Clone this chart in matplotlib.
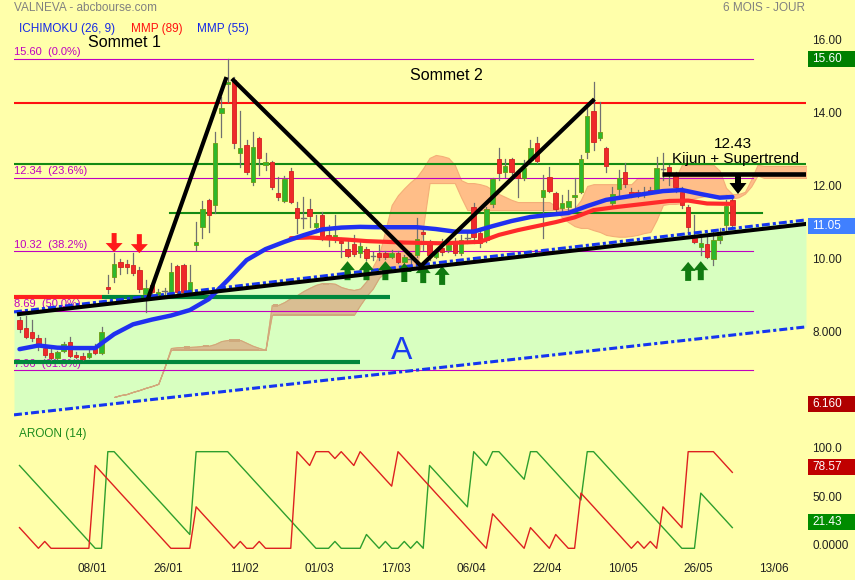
import numpy as np
import matplotlib.pyplot as plt
from matplotlib.patches import Polygon, Rectangle

plt.rcParams['font.family'] = ['Liberation Sans', 'DejaVu Sans']

# ---- daily candles (index 0 .. 113) ----
opens = [8.44, 8.22, 8.11, 7.95, 7.67, 7.53, 7.40, 7.59, 7.84, 7.48, 7.45, 7.42, 7.73, 7.53,
         9.34, 9.62, 10.03, 9.92, 9.95, 9.81, 9.15, 9.40, 9.15, 9.23, 9.21, 9.92, 9.95, 9.21,
         10.49, 10.99, 11.73, 11.59, 14.11, 14.90, 15.01, 13.01, 13.23, 12.22, 13.42, 12.69,
         12.77, 11.92, 11.70, 12.52, 11.51, 11.23, 11.48, 10.99, 11.32, 10.74, 10.70, 10.60,
         10.38, 10.52, 10.27, 10.38, 10.19, 10.27, 10.27, 10.16, 10.27, 10.03, 10.11, 10.22,
         10.85, 10.60, 10.16, 10.41, 10.36, 10.60, 10.27, 10.69, 11.53, 10.82, 10.63, 11.62,
         12.85, 12.49, 12.85, 12.47, 12.33, 12.82, 13.29, 11.81, 12.36, 11.92, 11.51, 11.53,
         11.81, 11.95, 13.04, 14.16, 13.42, 13.15, 11.64, 12.03, 12.49, 11.92, 11.92, 11.89,
         12.00, 12.00, 12.58, 12.63, 12.41, 11.95, 11.53, 10.69, 10.44, 10.52, 10.11, 10.63,
         11.04, 11.73]
highs = [8.52, 8.55, 8.44, 8.03, 7.95, 7.67, 7.59, 7.84, 7.97, 7.56, 7.53, 7.62, 7.78, 8.25,
         9.67, 10.27, 10.11, 10.08, 10.27, 9.89, 9.53, 9.45, 9.29, 9.32, 10.00, 9.95, 9.97, 9.95,
         11.12, 11.70, 11.75, 13.59, 14.55, 15.60, 15.10, 14.16, 13.37, 13.59, 13.45, 13.01,
         12.79, 12.36, 12.38, 12.60, 11.67, 11.81, 11.75, 11.32, 11.40, 11.04, 11.32, 10.69,
         10.63, 10.77, 10.63, 10.44, 10.30, 10.49, 10.33, 10.36, 10.33, 10.22, 10.27, 11.23,
         10.96, 10.63, 10.30, 10.66, 10.63, 10.69, 10.77, 10.85, 11.64, 10.90, 11.53, 12.33,
         13.15, 12.85, 12.88, 12.55, 12.82, 13.37, 13.45, 12.41, 12.63, 11.95, 11.86, 12.00,
         12.33, 12.96, 14.25, 14.96, 14.41, 13.18, 12.08, 12.55, 12.74, 12.05, 12.00, 12.08,
         12.08, 12.90, 13.01, 12.69, 12.49, 12.08, 11.59, 11.32, 10.77, 10.77, 10.90, 10.96,
         11.73, 11.81]
lows = [8.11, 7.95, 7.86, 7.62, 7.42, 7.34, 7.37, 7.56, 7.42, 7.40, 7.34, 7.40, 7.51, 7.51,
        9.18, 9.48, 9.70, 9.73, 9.67, 9.21, 8.66, 9.12, 9.07, 9.15, 9.18, 9.18, 9.18, 9.12,
        10.36, 10.69, 10.85, 11.37, 13.45, 14.41, 13.15, 12.63, 12.44, 12.14, 12.41, 12.55,
        12.03, 11.73, 11.67, 11.64, 10.82, 10.96, 10.99, 10.85, 10.63, 10.47, 10.58, 10.16,
        10.16, 10.19, 10.16, 10.08, 10.08, 10.08, 10.11, 10.14, 10.00, 9.95, 9.95, 10.16,
        10.36, 10.08, 10.14, 10.22, 10.30, 10.22, 10.22, 10.55, 10.55, 10.44, 10.58, 11.53,
        12.27, 12.36, 12.41, 11.81, 12.27, 12.77, 12.74, 10.69, 11.95, 11.42, 11.40, 11.45,
        11.53, 11.92, 12.88, 13.10, 13.37, 12.49, 11.53, 11.86, 12.08, 11.81, 11.81, 11.81,
        11.92, 11.95, 12.27, 12.14, 11.95, 11.51, 10.85, 10.55, 10.22, 10.14, 9.95, 10.55,
        10.85, 10.99]
closes = [8.19, 7.97, 7.95, 7.73, 7.48, 7.40, 7.56, 7.78, 7.45, 7.42, 7.37, 7.53, 7.53, 8.11,
          9.29, 9.97, 9.89, 9.90, 9.73, 9.29, 9.32, 9.21, 9.21, 9.24, 9.75, 9.21, 9.21, 9.48,
          10.58, 11.48, 11.32, 13.29, 14.25, 14.93, 13.29, 13.15, 12.49, 13.18, 12.88, 12.77,
          12.08, 11.81, 12.30, 11.67, 11.23, 11.22, 11.29, 11.10, 10.74, 10.70, 10.72, 10.55,
          10.19, 10.25, 10.47, 10.14, 10.20, 10.16, 10.16, 10.27, 10.03, 10.16, 10.12, 10.66,
          10.80, 10.22, 10.30, 10.30, 10.49, 10.27, 10.63, 10.70, 10.71, 10.55, 11.48, 12.30,
          12.47, 12.66, 12.49, 12.33, 12.60, 13.15, 12.79, 12.00, 11.97, 11.48, 11.64, 11.70,
          11.86, 12.85, 14.03, 13.32, 13.59, 12.66, 11.89, 12.33, 12.16, 11.89, 11.89, 11.95,
          11.95, 12.60, 12.59, 12.49, 12.08, 11.59, 10.99, 10.58, 10.55, 10.16, 10.63, 10.74,
          11.56, 11.05]

# moving averages (sampled along the curve)
mma55_idx = [0, 3, 6, 9, 12, 15, 18, 21, 24, 27, 30, 33, 36, 39, 42, 45, 48, 51, 54, 57,
             60, 63, 66, 69, 72, 75, 78, 81, 84, 87, 90, 93, 96, 99, 102, 105, 108, 111, 113]
mma55 = [7.64, 7.74, 7.68, 7.67, 7.67, 8.05, 8.32, 8.45, 8.56, 8.71, 9.01, 9.53, 10.08,
         10.38, 10.58, 10.76, 10.92, 10.97, 10.99, 10.98, 10.98, 10.98, 10.93, 10.86, 10.86,
         11.01, 11.15, 11.26, 11.32, 11.37, 11.56, 11.73, 11.81, 11.89, 11.97, 12.00, 11.89,
         11.79, 11.81]
mma89_idx = [43, 46, 49, 52, 55, 58, 61, 64, 67, 70, 73, 76, 79, 82, 85, 88, 91, 94, 97,
             100, 103, 106, 109, 113]
mma89 = [10.68, 10.70, 10.67, 10.64, 10.60, 10.58, 10.56, 10.55, 10.54, 10.56, 10.58, 10.77,
         10.90, 11.01, 11.12, 11.25, 11.45, 11.52, 11.58, 11.64, 11.70, 11.71, 11.63, 11.62]

# ichimoku cloud, index 15 .. 125
cloud_start = 15
cloud_top = [6.33, 6.38, 6.41, 6.47, 6.52, 6.58, 6.63, 6.69, 7.15,
             7.67, 7.69, 7.70, 7.70, 7.71, 7.73, 7.73, 7.78, 7.86, 7.89, 7.89, 7.89, 7.81,
             7.73, 7.67, 7.62,
             8.85, 8.85, 8.93, 9.04, 9.12, 9.23, 9.32, 9.40, 9.45, 9.45, 9.43, 9.34, 9.29, 9.26,
             9.30, 9.50, 9.90, 10.22, 10.90, 11.59,
             11.86, 12.05, 12.22, 12.36, 12.60, 12.88, 12.96, 12.93, 12.88, 12.69, 12.27, 12.19,
             12.19, 12.16, 12.11, 12.00, 11.89, 11.81, 11.73, 11.67, 11.67, 11.67, 11.67, 11.67,
             11.67, 11.56,
             11.47, 11.48, 11.50, 11.73, 12.11, 12.16, 12.16, 12.16, 12.16, 12.16, 12.16, 12.16,
             12.33, 12.33, 12.33, 12.33, 12.33, 12.33, 12.33, 12.69, 12.69, 12.69, 12.69, 12.69,
             12.69, 12.53, 12.06, 11.89, 11.89, 11.95, 12.29, 12.69, 12.66, 12.66, 12.66, 12.66,
             12.66, 12.66, 12.66, 12.66]
cloud_bot = [6.33, 6.38, 6.41, 6.47, 6.52, 6.58, 6.63, 6.69, 7.15,
             7.62, 7.62, 7.62, 7.62, 7.62, 7.62, 7.62, 7.62, 7.62, 7.62, 7.62, 7.62, 7.62,
             7.62, 7.62, 7.62,
             8.58, 8.58, 8.58, 8.58, 8.58, 8.58, 8.58, 8.58, 8.58, 8.58, 8.58, 8.58, 8.58, 8.58,
             8.85, 9.10, 9.30, 9.60, 9.75, 9.80,
             9.85, 9.85, 9.85, 9.85, 11.00, 12.19, 12.19, 12.19, 12.19, 12.19, 11.80, 11.45,
             11.45, 11.45, 11.45, 11.45, 11.45, 11.45, 11.45, 11.45, 11.45, 11.45, 11.45, 11.45,
             11.45, 11.45,
             11.25, 11.12, 11.01, 10.96, 10.96, 10.90, 10.85, 10.77, 10.74, 10.72, 10.72, 10.74,
             10.77, 10.82, 10.85, 11.18, 11.59, 11.62, 11.62, 11.64, 11.73, 11.78, 11.81, 11.84,
             11.86, 11.86, 11.89, 11.77, 11.80, 11.90, 12.10, 12.40, 12.33, 12.33, 12.33, 12.33,
             12.33, 12.33, 12.33, 12.33]

# AROON (14)
aroon_up = [85.7, 78.6, 71.4, 64.3, 57.1, 50.0, 42.9, 35.7, 28.6, 21.4, 14.3, 7.1, 0, 0,
            100, 100,
            92.9, 85.7, 78.6, 71.4, 64.3, 57.1, 50.0, 42.9, 35.7, 28.6, 21.4, 14.3,
            100, 100, 100, 100, 100, 100,
            92.9, 85.7, 78.6, 71.4, 64.3, 57.1, 50.0, 42.9, 35.7, 28.6, 21.4, 14.3, 7.1, 0,
            0, 0, 7.1, 0, 0, 0, 0,
            14.3, 7.1, 0, 7.1, 0, 0, 7.1, 0, 7.1, 0,
            85.7, 78.6, 71.4, 64.3, 57.1, 50.0, 42.9,
            100, 92.9, 85.7,
            100, 100, 92.9, 85.7, 78.6, 71.4,
            100, 100, 92.9, 85.7, 78.6, 71.4, 64.3, 57.1, 50.0,
            100, 100,
            92.9, 85.7, 78.6, 71.4, 64.3, 57.1, 50.0, 42.9, 35.7, 28.6, 21.4, 14.3, 7.1, 0,
            0, 0,
            57.1, 50.0, 42.9, 35.7, 28.6, 21.43]
aroon_down = [21.4, 14.3, 7.1, 0, 7.1, 0, 0, 0, 0, 0, 0, 0,
              85.7, 78.6, 71.4, 64.3, 57.1, 50.0, 42.9, 35.7, 28.6, 21.4, 14.3, 7.1, 0,
              0, 0, 0,
              42.9, 35.7, 28.6, 21.4, 14.3, 7.1, 0,
              7.1, 0, 0, 7.1, 0, 0, 0, 0, 0,
              100, 92.9, 85.7, 100, 100, 100, 92.9, 100, 92.9, 85.7, 100, 92.9, 85.7, 78.6,
              71.4, 64.3,
              100, 92.9, 85.7, 78.6, 71.4, 64.3, 57.1, 50.0, 42.9, 35.7, 28.6, 21.4, 14.3, 7.1, 0,
              35.7, 28.6, 21.4, 14.3, 7.1, 0,
              21.4, 14.3, 7.1, 0,
              14.3, 7.1, 0, 0,
              57.1, 50.0, 42.9, 35.7, 28.6, 21.4, 14.3, 7.1, 0,
              7.1, 0, 7.1, 0,
              42.9, 35.7, 28.6, 21.4,
              100, 100, 100, 100, 100,
              92.9, 85.7, 78.57]

date_labels = ['08/01', '26/01', '11/02', '01/03', '17/03', '06/04', '22/04', '10/05',
               '26/05', '13/06']
price_ticks = [16, 14, 12, 10, 8]
price_tick_labels = ['16.00', '14.00', '12.00', '10.00', '8.000']
aroon_ticks = [100, 50, 0]
aroon_tick_labels = ['100.0', '50.00', '0.0000']

fib_levels = [15.60, 12.34, 10.32, 8.69, 7.06]
fib_pct = ['0.0%', '23.6%', '38.2%', '50.0%', '61.8%']

# drawn objects (trend lines, channel, zigzag)
channel_x = [-0.87, 124.68]
channel_up = [8.66, 11.18]
channel_lo = [5.84, 8.25]
support_x = [-0.08, 124.68]
support_y = [8.60, 11.07]
zig1_x, zig1_y = [20.4, 32.7], [9.04, 15.04]
zig2_x, zig2_y = [33.9, 63.65, 90.9], [15.01, 9.92, 14.45]
kijun_level = 12.45
last_close = 11.05
low_mark = 6.16

# ---- colours ----
BG = '#FFFFAA'
CHAN = '#D8FFC0'
CLOUD = '#FFBE88'
CLOUD_T = '#D9BE92'
BLUE = '#1535F0'
GRN = '#138A13'
MAG = '#C000C0'

W, H = 855, 580
fig = plt.figure(figsize=(W / 100, H / 100), dpi=100, facecolor=BG)


def add_px_axes(x0, y0, x1, y1):
    a = fig.add_axes([x0 / W, 1 - y1 / H, (x1 - x0) / W, (y1 - y0) / H])
    a.set_facecolor('none')
    a.axis('off')
    return a


def ftext(x, y, s, **kw):
    fig.text(x / W, 1 - y / H, s, **kw)


ax = add_px_axes(14, 0, 806, 420)
ax.set_xlim(-0.872, 124.68)
ax.set_ylim(5.699, 17.205)
PX_X = 792 / (124.68 + 0.872)
PX_Y = 420 / (17.205 - 5.699)

# channel fill + cloud
ax.fill_between(channel_x, channel_lo, channel_up, color=CHAN, lw=0, zorder=1)
chan_patch = Polygon([(channel_x[0], channel_lo[0]), (channel_x[1], channel_lo[1]),
                      (channel_x[1], channel_up[1]), (channel_x[0], channel_up[0])],
                     closed=True, transform=ax.transData)
cx = np.arange(cloud_start, cloud_start + len(cloud_top))
ax.fill_between(cx, cloud_bot, cloud_top, facecolor=CLOUD, edgecolor='#F4AE78', lw=0.8,
                zorder=2)
tan = ax.fill_between(cx, cloud_bot, cloud_top, facecolor=CLOUD_T, edgecolor='#CFA97C',
                      lw=0.8, zorder=2.1)
tan.set_clip_path(chan_patch)

# horizontal levels
for lv, pc in zip(fib_levels, fib_pct):
    ax.plot([-0.87, 116.3], [lv, lv], color=MAG, lw=0.8, zorder=3)
    ax.text(-0.87, lv + 0.04, f'{lv:.2f}  ({pc})', color=MAG, fontsize=8, ha='left',
            va='bottom', zorder=3)
ax.plot([-0.87, 124.68], [14.37, 14.37], color='#FF1010', lw=1.5, zorder=3)
ax.plot([-0.87, 124.68], [12.71, 12.71], color=GRN, lw=1.5, zorder=3)
ax.plot([23.9, 117.7], [11.36, 11.36], color=GRN, lw=1.5, zorder=3)
ax.plot([-0.87, 13.0], [9.06, 9.06], color='#FF2020', lw=3, solid_capstyle='butt', zorder=3)
ax.plot([13.0, 58.8], [9.06, 9.06], color='#00873C', lw=3, solid_capstyle='butt', zorder=3)
ax.plot([-0.87, 54.0], [7.29, 7.29], color='#00873C', lw=3, solid_capstyle='butt', zorder=3)

# candles
for i, (o, h, l, c) in enumerate(zip(opens, highs, lows, closes)):
    ax.plot([i, i], [l, h], color='#707070', lw=0.9, zorder=4)
    if abs(c - o) < 0.015:
        ax.plot([i - 0.35, i + 0.35], [o, o], color='#707070', lw=1, zorder=4)
        continue
    up = c > o
    ax.add_patch(Rectangle((i - 0.35, min(o, c)), 0.7, max(abs(c - o), 0.06),
                           fc='#2DB82D' if up else '#EE2A2A',
                           ec='#6E9A10' if up else '#D42020', lw=0.6, zorder=4.1))

# moving averages
ax.plot(mma89_idx, mma89, color='#FF2A2A', lw=3, solid_capstyle='round', zorder=5)
ax.plot(mma55_idx, mma55, color='#2030F0', lw=3.2, solid_capstyle='round', zorder=5.1)

# channel, support, zigzag
dd = (0, (2.6, 1, 1, 1))
ax.plot(channel_x, channel_up, color=BLUE, lw=2.2, ls=dd, zorder=6)
ax.plot(channel_x, channel_lo, color=BLUE, lw=2.2, ls=dd, zorder=6)
ax.plot(support_x, support_y, color='black', lw=2.9, zorder=6.5)
ax.plot(zig1_x, zig1_y, color='black', lw=3, zorder=7)
ax.plot(zig2_x, zig2_y, color='black', lw=3, zorder=7)
ax.plot([101.85, 124.68], [kijun_level, kijun_level], color='black', lw=3.3,
        solid_capstyle='butt', zorder=7)


def arrow(xc, tip, up, color, head_w, head_h, shaft_w, shaft_h, z=6.2):
    sx, sy = 1 / PX_X, 1 / PX_Y
    d = -1 if up else 1
    base = tip + d * head_h * sy
    end = base + d * shaft_h * sy
    hw, sw = head_w * sx / 2, shaft_w * sx / 2
    pts = [(xc, tip), (xc + hw, base), (xc + sw, base), (xc + sw, end),
           (xc - sw, end), (xc - sw, base), (xc - hw, base)]
    ax.add_patch(Polygon(pts, closed=True, fc=color, ec='none', zorder=z))


for xi, tp in zip([15, 19], [10.30, 10.27]):
    arrow(xi, tp, False, '#FF1A1A', 17, 9, 5, 10, z=8)
for xi, tp in zip([52, 55, 58, 61, 64, 67, 106, 108],
                  [10.05, 10.05, 10.05, 10.00, 9.97, 9.92, 10.03, 10.05]):
    arrow(xi, tp, True, '#107A10', 15, 9, 6, 10)
arrow(113.9, 11.89, False, 'black', 17, 11, 6, 8, z=8)

# annotations
ax.text(16.6, 16.03, 'Sommet 1', fontsize=11.5, ha='center', va='center', zorder=9)
ax.text(67.6, 15.15, 'Sommet 2', fontsize=11.5, ha='center', va='center', zorder=9)
ax.text(113.1, 13.27, '12.43', fontsize=11, ha='center', va='center', zorder=9)
ax.text(113.5, 12.85, 'Kijun + Supertrend', fontsize=11, ha='center', va='center',
        zorder=9)
ax.text(60.5, 7.59, 'A', fontsize=23, color='#1A3CF0', ha='center', va='center', zorder=9)

# right price scale
yt = ax.get_yaxis_transform()
for v, s in zip(price_ticks, price_tick_labels):
    ax.text(1.0076, v + 0.08, s, transform=yt, fontsize=8.5, color='#202020',
            ha='left', va='center', clip_on=False)
for v, s, col in [(fib_levels[0], '15.60', '#008000'), (last_close, '11.05', '#4080FF'),
                  (low_mark, '6.160', '#B00000')]:
    hh = 16 / PX_Y
    ax.add_patch(Rectangle((1.0025, v - 0.025 - hh / 2), 0.06, hh, transform=yt,
                           fc=col, ec='none', clip_on=False))
    ax.text(1.0076, v - 0.025, s, transform=yt, fontsize=8.5, color='white', ha='left',
            va='center', clip_on=False)

# titles and legend
ftext(14, 8, 'VALNEVA - abcbourse.com', fontsize=8.5, color='#808080', va='center')
ftext(805, 8, '6 MOIS - JOUR', fontsize=8.5, color='#808080', va='center', ha='right')
ftext(19, 29, 'ICHIMOKU (26, 9)', fontsize=8.5, color='#1428E6', va='center')
ftext(131, 29, 'MMP (89)', fontsize=8.5, color='#FF1010', va='center')
ftext(197, 29, 'MMP (55)', fontsize=8.5, color='#1428E6', va='center')

# ---- AROON panel ----
ax2 = add_px_axes(14, 425, 806, 556)
ax2.set_xlim(-0.872, 124.68)
ax2.set_ylim(-7.97, 127.6)
idx = np.arange(len(aroon_up))
ax2.plot(idx, aroon_up, color='#2E9E2E', lw=1.0)
ax2.plot(idx, aroon_down, color='#DD2020', lw=1.0)
ftext(19, 434, 'AROON (14)', fontsize=8.5, color='#1E8C1E', va='center')

yt2 = ax2.get_yaxis_transform()
for v, s in zip(aroon_ticks, aroon_tick_labels):
    ax2.text(1.0076, v + 2.5, s, transform=yt2, fontsize=8.5, color='#202020',
             ha='left', va='center', clip_on=False)
for v, col in [(aroon_down[-1], '#C00000'), (aroon_up[-1], '#008C00')]:
    hh = 16 / 0.966
    ax2.add_patch(Rectangle((1.0025, v + 5.5 - hh / 2), 0.06, hh, transform=yt2,
                            fc=col, ec='none', clip_on=False))
    ax2.text(1.0076, v + 5.5, f'{v:.2f}', transform=yt2, fontsize=8.5, color='white',
             ha='left', va='center', clip_on=False)

xt2 = ax2.get_xaxis_transform()
for k, s in enumerate(date_labels):
    ax2.text(12 * (k + 1) - 0.4, -0.099, s, transform=xt2, fontsize=8.5, color='#202020',
             ha='center', va='center', clip_on=False)

fig.savefig('out.png', dpi=100, facecolor=BG)
